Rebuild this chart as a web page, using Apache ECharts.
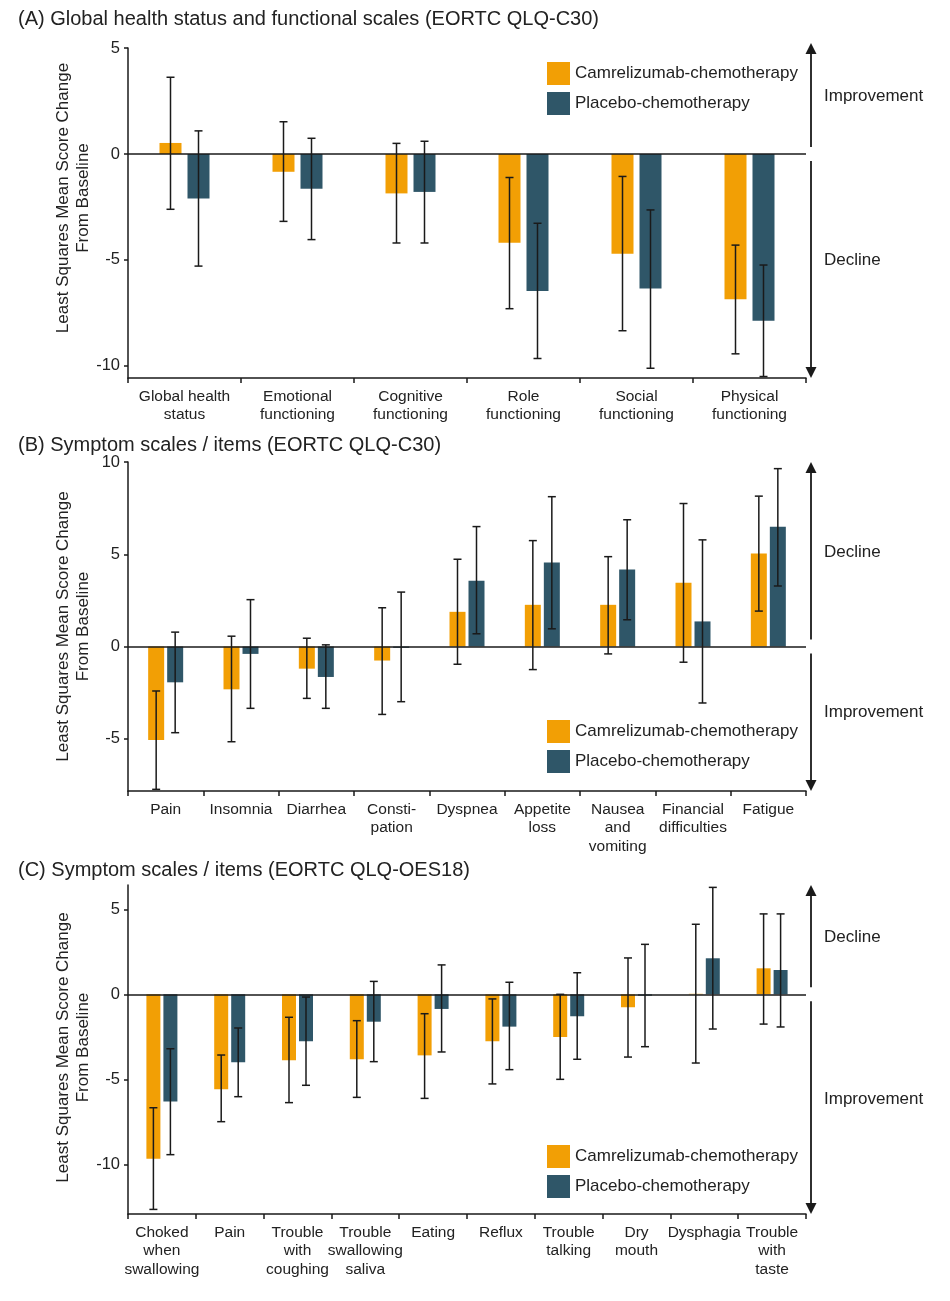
<!DOCTYPE html>
<html>
<head>
<meta charset="utf-8">
<script src="https://cdn.jsdelivr.net/npm/echarts@6/dist/echarts.min.js"></script>
<style>
  html, body { margin: 0; padding: 0; background: #fff; }
  #chart { width: 950px; height: 1301px; }
</style>
</head>
<body>
<div id="chart"></div>
<script>
// ---------- DATA ----------
const seriesNames = ['Camrelizumab-chemotherapy', 'Placebo-chemotherapy'];

const catsA = ['Global health\nstatus', 'Emotional\nfunctioning', 'Cognitive\nfunctioning', 'Role\nfunctioning', 'Social\nfunctioning', 'Physical\nfunctioning'];
const camA    = [0.52, -0.84, -1.86, -4.19, -4.71, -6.86];
const camA_lo = [-2.61, -3.18, -4.20, -7.30, -8.34, -9.43];
const camA_hi = [3.62, 1.52, 0.50, -1.11, -1.06, -4.30];
const plaA    = [-2.10, -1.64, -1.79, -6.46, -6.35, -7.87];
const plaA_lo = [-5.29, -4.04, -4.20, -9.65, -10.11, -10.50];
const plaA_hi = [1.09, 0.74, 0.60, -3.27, -2.64, -5.24];
const ticksA  = [-10, -5, 0, 5];

const catsB = ['Pain', 'Insomnia', 'Diarrhea', 'Consti-\npation', 'Dyspnea', 'Appetite\nloss', 'Nausea\nand\nvomiting', 'Financial\ndifficulties', 'Fatigue'];
const camB    = [-5.07, -2.32, -1.20, -0.76, 1.88, 2.26, 2.26, 3.46, 5.04];
const camB_lo = [-7.74, -5.16, -2.81, -3.68, -0.96, -1.25, -0.40, -0.85, 1.92];
const camB_hi = [-2.41, 0.56, 0.45, 2.10, 4.73, 5.74, 4.87, 7.75, 8.15];
const plaB    = [-1.94, -0.40, -1.65, -0.07, 3.57, 4.55, 4.18, 1.36, 6.49];
const plaB_lo = [-4.67, -3.35, -3.35, -2.99, 0.69, 0.96, 1.45, -3.06, 3.28];
const plaB_hi = [0.78, 2.54, 0.09, 2.95, 6.50, 8.12, 6.87, 5.78, 9.64];
const ticksB  = [-5, 0, 5, 10];

const catsC = ['Choked\nwhen\nswallowing', 'Pain', 'Trouble\nwith\ncoughing', 'Trouble\nswallowing\nsaliva', 'Eating', 'Reflux', 'Trouble\ntalking', 'Dry\nmouth', 'Dysphagia', 'Trouble\nwith\ntaste'];
const camC    = [-9.67, -5.59, -3.88, -3.82, -3.59, -2.76, -2.51, -0.76, 0.03, 1.53];
const camC_lo = [-12.65, -7.49, -6.37, -6.06, -6.12, -5.27, -5.00, -3.69, -4.04, -1.75];
const camC_hi = [-6.67, -3.57, -1.35, -1.55, -1.14, -0.27, 0.00, 2.14, 4.12, 4.73];
const plaC    = [-6.31, -4.00, -2.76, -1.61, -0.86, -1.90, -1.29, -0.08, 2.12, 1.43];
const plaC_lo = [-9.43, -6.02, -5.35, -3.96, -3.39, -4.43, -3.82, -3.08, -2.04, -1.92];
const plaC_hi = [-3.20, -1.98, -0.16, 0.76, 1.73, 0.71, 1.27, 2.94, 6.29, 4.73];
const ticksC  = [-10, -5, 0, 5];

const titles = [
  '(A) Global health status and functional scales (EORTC QLQ-C30)',
  '(B) Symptom scales / items (EORTC QLQ-C30)',
  '(C) Symptom scales / items (EORTC QLQ-OES18)'
];
const directionLabels = [
  ['Improvement', 'Decline'],
  ['Decline', 'Improvement'],
  ['Decline', 'Improvement']
];
const yAxisName = 'Least Squares Mean Score Change\nFrom Baseline';

// ---------- STYLE / LAYOUT ----------
const FONT = 'Liberation Sans, Arial, Helvetica, sans-serif';
const ORANGE = '#F29F05';
const TEAL = '#2F5668';
const INK = '#1a1a1a';
const TXT = '#222';

const panels = [
  { cats: catsA, cam: camA, camLo: camA_lo, camHi: camA_hi, pla: plaA, plaLo: plaA_lo, plaHi: plaA_hi, ticks: ticksA,
    grid: { left: 128, top: 48, width: 678, height: 330 }, yMin: -10.57, yMax: 5, barW: 22, gap: 6,
    titleTop: 9, legendTop: 62, textY: [96, 260], nameShift: 15 },
  { cats: catsB, cam: camB, camLo: camB_lo, camHi: camB_hi, pla: plaB, plaLo: plaB_lo, plaHi: plaB_hi, ticks: ticksB,
    grid: { left: 128, top: 462, width: 678, height: 329 }, yMin: -7.83, yMax: 10, barW: 16, gap: 3,
    titleTop: 435, legendTop: 720, textY: [552, 712], nameShift: 0 },
  { cats: catsC, cam: camC, camLo: camC_lo, camHi: camC_hi, pla: plaC, plaLo: plaC_lo, plaHi: plaC_hi, ticks: ticksC,
    grid: { left: 128, top: 885, width: 678, height: 329 }, yMin: -12.92, yMax: 6.43, barW: 14, gap: 3,
    titleTop: 860, legendTop: 1145, textY: [937, 1099], nameShift: 2 }
];

function errorSeries(gi, name, lo, hi, offset) {
  return {
    type: 'custom',
    name: name,
    xAxisIndex: gi, yAxisIndex: gi,
    z: 5,
    silent: true,
    data: lo.map((l, i) => [i, l, hi[i]]),
    renderItem: function (params, api) {
      const idx = api.value(0);
      const x = api.coord([idx, 0])[0] + offset;
      const y1 = api.coord([idx, api.value(1)])[1];
      const y2 = api.coord([idx, api.value(2)])[1];
      const cap = 4;
      const st = { stroke: INK, lineWidth: 1.5 };
      return {
        type: 'group',
        children: [
          { type: 'line', shape: { x1: x, y1: y1, x2: x, y2: y2 }, style: st },
          { type: 'line', shape: { x1: x - cap, y1: y1, x2: x + cap, y2: y1 }, style: st },
          { type: 'line', shape: { x1: x - cap, y1: y2, x2: x + cap, y2: y2 }, style: st }
        ]
      };
    }
  };
}

const option = {
  backgroundColor: '#fff',
  animation: false,
  title: panels.map((p, i) => ({
    text: titles[i], left: 18, top: p.titleTop, padding: 0,
    textStyle: { fontFamily: FONT, fontSize: 20, fontWeight: 'normal', color: TXT }
  })),
  legend: panels.map(p => ({
    data: seriesNames, orient: 'vertical', left: 547, top: p.legendTop, padding: 0,
    icon: 'rect', itemWidth: 23, itemHeight: 23, itemGap: 7,
    selectedMode: false,
    textStyle: { fontFamily: FONT, fontSize: 17, color: TXT }
  })),
  grid: panels.map(p => Object.assign({ containLabel: false }, p.grid)),
  xAxis: panels.map((p, i) => ({
    type: 'category', gridIndex: i, data: p.cats,
    axisLine: { show: true, onZero: false, lineStyle: { color: INK, width: 1.5 } },
    axisTick: { show: true, length: 5, lineStyle: { color: INK, width: 1.5 } },
    axisLabel: { interval: 0, fontFamily: FONT, fontSize: 15.5, color: TXT, lineHeight: 18.5, margin: 9 },
    splitLine: { show: false }
  })),
  yAxis: panels.map((p, i) => ({
    type: 'value', gridIndex: i, min: p.yMin, max: p.yMax,
    name: yAxisName, nameLocation: 'middle', nameRotate: 90, nameGap: 35,
    nameMoveOverlap: false,
    nameTextStyle: { fontFamily: FONT, fontSize: 17, color: TXT, lineHeight: 20, padding: [0, 0, 0, p.nameShift * 2] },
    axisLine: { show: true, lineStyle: { color: INK, width: 1.5 } },
    axisTick: { show: true, length: 4, customValues: p.ticks, lineStyle: { color: INK, width: 1.5 } },
    axisLabel: { customValues: p.ticks, fontFamily: FONT, fontSize: 16.5, color: TXT, margin: 8 },
    splitLine: { show: false }
  })),
  series: []
};

panels.forEach((p, i) => {
  const gapPct = (p.gap / p.barW * 100) + '%';
  option.series.push({
    type: 'bar', name: seriesNames[0], xAxisIndex: i, yAxisIndex: i,
    data: p.cam, barWidth: p.barW, barGap: gapPct,
    itemStyle: { color: ORANGE },
    markLine: {
      silent: true, symbol: 'none', label: { show: false },
      lineStyle: { color: INK, width: 1.5, type: 'solid' },
      data: [{ yAxis: 0 }]
    }
  });
  option.series.push({
    type: 'bar', name: seriesNames[1], xAxisIndex: i, yAxisIndex: i,
    data: p.pla, barWidth: p.barW, barGap: gapPct,
    itemStyle: { color: TEAL }
  });
  const off = (p.barW + p.gap) / 2;
  option.series.push(errorSeries(i, seriesNames[0], p.camLo, p.camHi, -off));
  option.series.push(errorSeries(i, seriesNames[1], p.plaLo, p.plaHi, off));
});

const chart = echarts.init(document.getElementById('chart'), null, { renderer: 'canvas' });
chart.setOption(option);

// Direction arrows (annotations), positioned from the grids and the zero line
const graphics = [];
panels.forEach((p, i) => {
  const zeroY = chart.convertToPixel({ gridIndex: i }, [0, 0])[1];
  const top = p.grid.top - (i === 0 ? 5 : 0);
  const bottom = p.grid.top + p.grid.height;
  const ax = p.grid.left + p.grid.width + 5;
  const gapZ = 7, head = 11, hw = 5.5;
  const st = { stroke: INK, lineWidth: 1.8 };
  graphics.push({ type: 'line', shape: { x1: ax, y1: top + head - 1, x2: ax, y2: zeroY - gapZ }, style: st });
  graphics.push({ type: 'polygon', shape: { points: [[ax, top], [ax - hw, top + head], [ax + hw, top + head]] }, style: { fill: INK } });
  graphics.push({ type: 'line', shape: { x1: ax, y1: zeroY + gapZ, x2: ax, y2: bottom - head + 1 }, style: st });
  graphics.push({ type: 'polygon', shape: { points: [[ax, bottom], [ax - hw, bottom - head], [ax + hw, bottom - head]] }, style: { fill: INK } });
  directionLabels[i].forEach((t, k) => {
    graphics.push({
      type: 'text', x: ax + 13, y: p.textY[k],
      style: { text: t, fontFamily: FONT, fontSize: 17, fill: TXT, verticalAlign: 'middle', align: 'left' }
    });
  });
});
chart.setOption({ graphic: graphics });
</script>
</body>
</html>
